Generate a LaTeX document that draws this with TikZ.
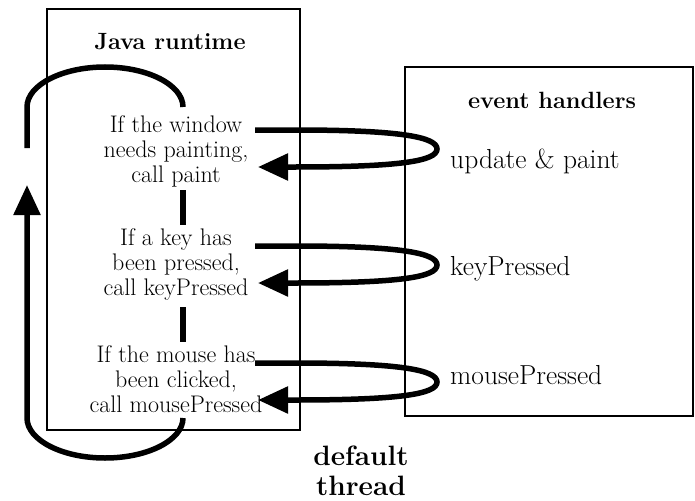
\documentclass[tikz,border=0pt]{standalone}
\usetikzlibrary{arrows.meta,calc}
\begin{document}
\begin{tikzpicture}[x=1pt,y=-1pt,
  frame/.style={draw, line width=1.5pt, inner sep=0pt, outer sep=0pt},
  flow/.style={line width=5.5pt},
  bigtip/.style={-{Triangle[length=30pt,width=26pt]}},
  stepfont/.style={font=\fontsize{24}{25}\selectfont, align=center, inner sep=0pt},
  headfont/.style={font=\fontsize{23.5}{26}\selectfont\bfseries, inner sep=0pt},
  handlerfont/.style={font=\fontsize{27.5}{30}\selectfont, inner sep=0pt, anchor=base west},
  threadfont/.style={font=\fontsize{28}{30}\selectfont\bfseries, align=center, inner sep=0pt}]
\useasboundingbox (0,0) rectangle (695,500);

% the two containers
\node[frame, anchor=north west, minimum width=253pt, minimum height=421pt] (runtime) at (47,9) {};
\node[frame, anchor=north west, minimum width=288pt, minimum height=349pt] (handlers) at (405,67) {};

% titles
\node[headfont, anchor=base] (rtitle) at (170,50) {Java runtime};
\node[headfont, anchor=base] (htitle) at (552,108) {event handlers};

% the three checks done by the runtime
\node[stepfont] (chk1) at (176,151) {If the window\\needs painting,\\call paint};
\node[stepfont] (chk2) at (176,265) {If a key has\\been pressed,\\call keyPressed};
\node[stepfont] (chk3) at (176,379) {If the mouse has\\been clicked,\\call mousePressed};

% handler methods
\node[handlerfont] (h1) at (450,168) {update \& paint};
\node[handlerfont] (h2) at (450,275) {keyPressed};
\node[handlerfont] (h3) at (450,384) {mousePressed};

% thread label
\node[threadfont] (thread) at (361,471) {default\\thread};

% links between consecutive checks
\draw[flow] (183,190) -- (183,225);
\draw[flow] (183,307) -- (183,342);

% calls out to the handlers and back
\foreach \n/\c in {1/149, 2/265, 3/382} {
  \coordinate (out\n) at (255,\c-19);
  \coordinate (turn\n) at (437,\c);
  \coordinate (back\n) at (258,\c+18);
  \draw[flow,bigtip] (out\n) -- ($(out\n)+(40,0)$)
    .. controls +(105,0) and +(0,-12) .. (turn\n)
    .. controls +(0,12) and +(105,0) .. ($(back\n)+(37,0)$) -- (back\n);
}

% the event loop of the default thread
\coordinate (loopL) at (27,148);
\coordinate (loopTopL) at (27,107);
\coordinate (loopTopR) at (183,107);
\coordinate (loopBotR) at (183,418);
\coordinate (loopBotL) at (27,418);
\coordinate (loopTip) at (27,185);
\draw[flow] (loopL) -- (loopTopL)
  .. controls +(0,-22) and +(-43,0) .. (105,67)
  .. controls +(43,0) and +(0,-22) .. (loopTopR);
\draw[flow,bigtip] (loopBotR)
  .. controls +(0,22) and +(43,0) .. (105,458)
  .. controls +(-43,0) and +(0,22) .. (loopBotL) -- (loopTip);
\end{tikzpicture}
\end{document}
